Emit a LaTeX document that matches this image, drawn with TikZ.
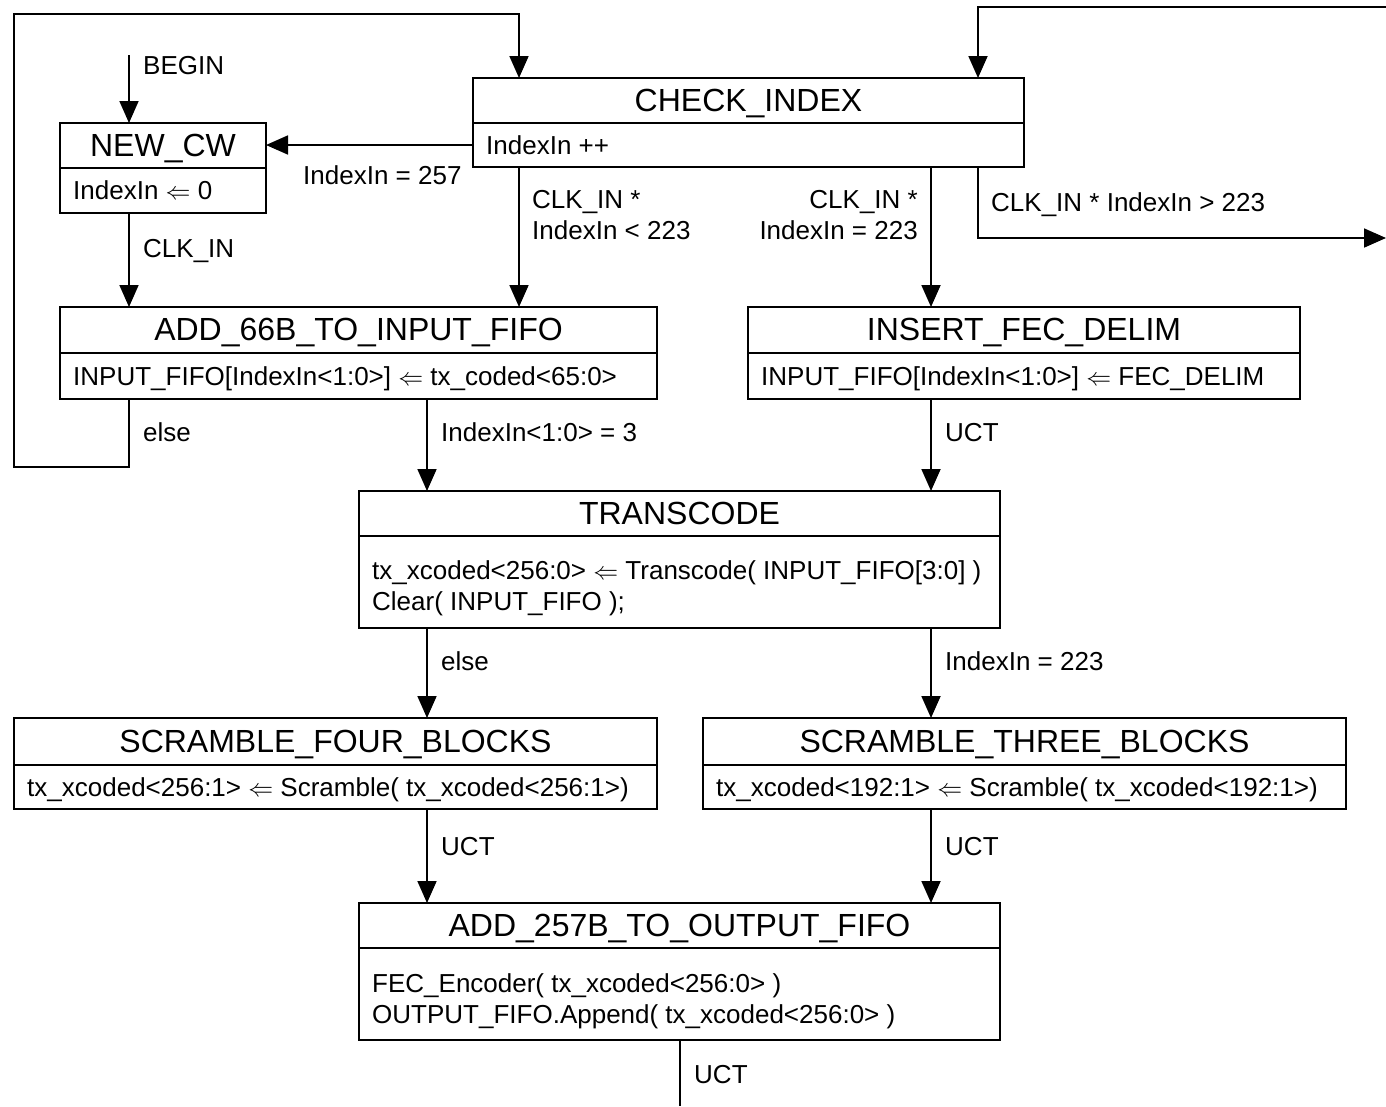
\documentclass[tikz,border=0pt]{standalone}
\usepackage{fontspec}
\setmainfont{Liberation Sans}
\usetikzlibrary{arrows.meta}

\tikzset{
  wire/.style={line width=1.8pt},
  arr/.style={wire, -{Triangle[width=19pt,length=22pt]}},
  frame/.style={draw, line width=1.8pt, inner sep=0pt, outer sep=0pt, anchor=north west},
  ttl/.style={font=\fontsize{32}{38}\selectfont, inner sep=0pt, anchor=base},
  txt/.style={font=\fontsize{26}{31}\selectfont, inner sep=0pt, align=left, anchor=north west},
  lbl/.style={font=\fontsize{26}{31}\selectfont, inner sep=0pt},
}

% state box: name, north-west corner, width, height, title band height,
% title, actions, offset of the action text from the top
\newcommand\fsmbox[8]{%
  \node[frame, minimum width=#3pt, minimum height=#4pt] (#1) at (#2) {};
  \draw[wire] ([yshift=-#5pt]#1.north west) -- ([yshift=-#5pt]#1.north east);
  \node[ttl] (#1-t) at ([yshift={-(#5/2+10.5)*1pt}]#1.north) {#6};
  \node[txt] (#1-b) at ([xshift=13pt, yshift=-#8pt]#1.north west) {#7};
}

\begin{document}
\begin{tikzpicture}[x=1pt, y=-1pt]
\useasboundingbox (0,0) rectangle (1386,1106);

% states
\fsmbox{check}{473,78}{551}{89}{45}{CHECK\_INDEX}{IndexIn ++}{57}
\fsmbox{newcw}{60,123}{206}{90}{45}{NEW\_CW}{IndexIn $\Leftarrow$ 0}{57}
\fsmbox{add66}{60,307}{597}{92}{46}{ADD\_66B\_TO\_INPUT\_FIFO}{INPUT\_FIFO[IndexIn<1:0>] $\Leftarrow$ tx\_coded<65:0>}{59}
\fsmbox{insert}{748,307}{552}{92}{46}{INSERT\_FEC\_DELIM}{INPUT\_FIFO[IndexIn<1:0>] $\Leftarrow$ FEC\_DELIM}{59}
\fsmbox{trans}{359,491}{641}{137}{45}{TRANSCODE}{tx\_xcoded<256:0> $\Leftarrow$ Transcode( INPUT\_FIFO[3:0] )\\Clear( INPUT\_FIFO );}{69}
\fsmbox{sfour}{14,718}{643}{91}{47}{SCRAMBLE\_FOUR\_BLOCKS}{tx\_xcoded<256:1> $\Leftarrow$ Scramble( tx\_xcoded<256:1>)}{59}
\fsmbox{sthree}{703,718}{643}{91}{47}{SCRAMBLE\_THREE\_BLOCKS}{tx\_xcoded<192:1> $\Leftarrow$ Scramble( tx\_xcoded<192:1>)}{59}
\fsmbox{add257}{359,903}{641}{137}{45}{ADD\_257B\_TO\_OUTPUT\_FIFO}{FEC\_Encoder( tx\_xcoded<256:0> )\\OUTPUT\_FIFO.Append( tx\_xcoded<256:0> )}{70}

% connector columns, rows and free ends
\coordinate (c129) at (129,0);
\coordinate (c427) at (427,0);
\coordinate (c519) at (519,0);
\coordinate (c680) at (680,0);
\coordinate (c931) at (931,0);
\coordinate (c978) at (978,0);
\coordinate (r145) at (0,145);
\coordinate (begin) at (129,55);
\coordinate (loopbot) at (14,467);
\coordinate (looptop) at (14,14);
\coordinate (rtop) at (1386,7);
\coordinate (rexit) at (1386,238);
\coordinate (bexit) at (680,1106);

% transitions
\draw[arr] (begin) -- (newcw.north -| c129);
\draw[arr] (check.west |- r145) -- (newcw.east |- r145);
\draw[arr] (newcw.south -| c129) -- (add66.north -| c129);
\draw[arr] (check.south -| c519) -- (add66.north -| c519);
\draw[arr] (check.south -| c931) -- (insert.north -| c931);
\draw[arr] (check.south -| c978) |- (rexit);
\draw[arr] (rtop) -| (check.north -| c978);
\draw[arr] (add66.south -| c129) |- (loopbot) -- (looptop) -| (check.north -| c519);
\draw[arr] (add66.south -| c427) -- (trans.north -| c427);
\draw[arr] (insert.south -| c931) -- (trans.north -| c931);
\draw[arr] (trans.south -| c427) -- (sfour.north -| c427);
\draw[arr] (trans.south -| c931) -- (sthree.north -| c931);
\draw[arr] (sfour.south -| c427) -- (add257.north -| c427);
\draw[arr] (sthree.south -| c931) -- (add257.north -| c931);
\draw[wire] (add257.south -| c680) -- (bexit);

% transition labels
\node[lbl, anchor=base west] (l-begin) at (143,74) {BEGIN};
\node[lbl, anchor=base west] (l-257) at (303,184) {IndexIn = 257};
\node[lbl, anchor=base west] (l-clk) at (143,257) {CLK\_IN};
\node[lbl, anchor=north west, align=left] (l-lt) at (532,190) {CLK\_IN *\\IndexIn < 223};
\node[lbl, anchor=north east, align=right] (l-eq) at (918,190) {CLK\_IN *\\IndexIn = 223};
\node[lbl, anchor=base west] (l-gt) at (991,211) {CLK\_IN * IndexIn > 223};
\node[lbl, anchor=base west] (l-else1) at (143,441) {else};
\node[lbl, anchor=base west] (l-three) at (441,441) {IndexIn<1:0> = 3};
\node[lbl, anchor=base west] (l-uct1) at (945,441) {UCT};
\node[lbl, anchor=base west] (l-else2) at (441,670) {else};
\node[lbl, anchor=base west] (l-223) at (945,670) {IndexIn = 223};
\node[lbl, anchor=base west] (l-uct2) at (441,855) {UCT};
\node[lbl, anchor=base west] (l-uct3) at (945,855) {UCT};
\node[lbl, anchor=base west] (l-uct4) at (694,1083) {UCT};
\end{tikzpicture}
\end{document}
